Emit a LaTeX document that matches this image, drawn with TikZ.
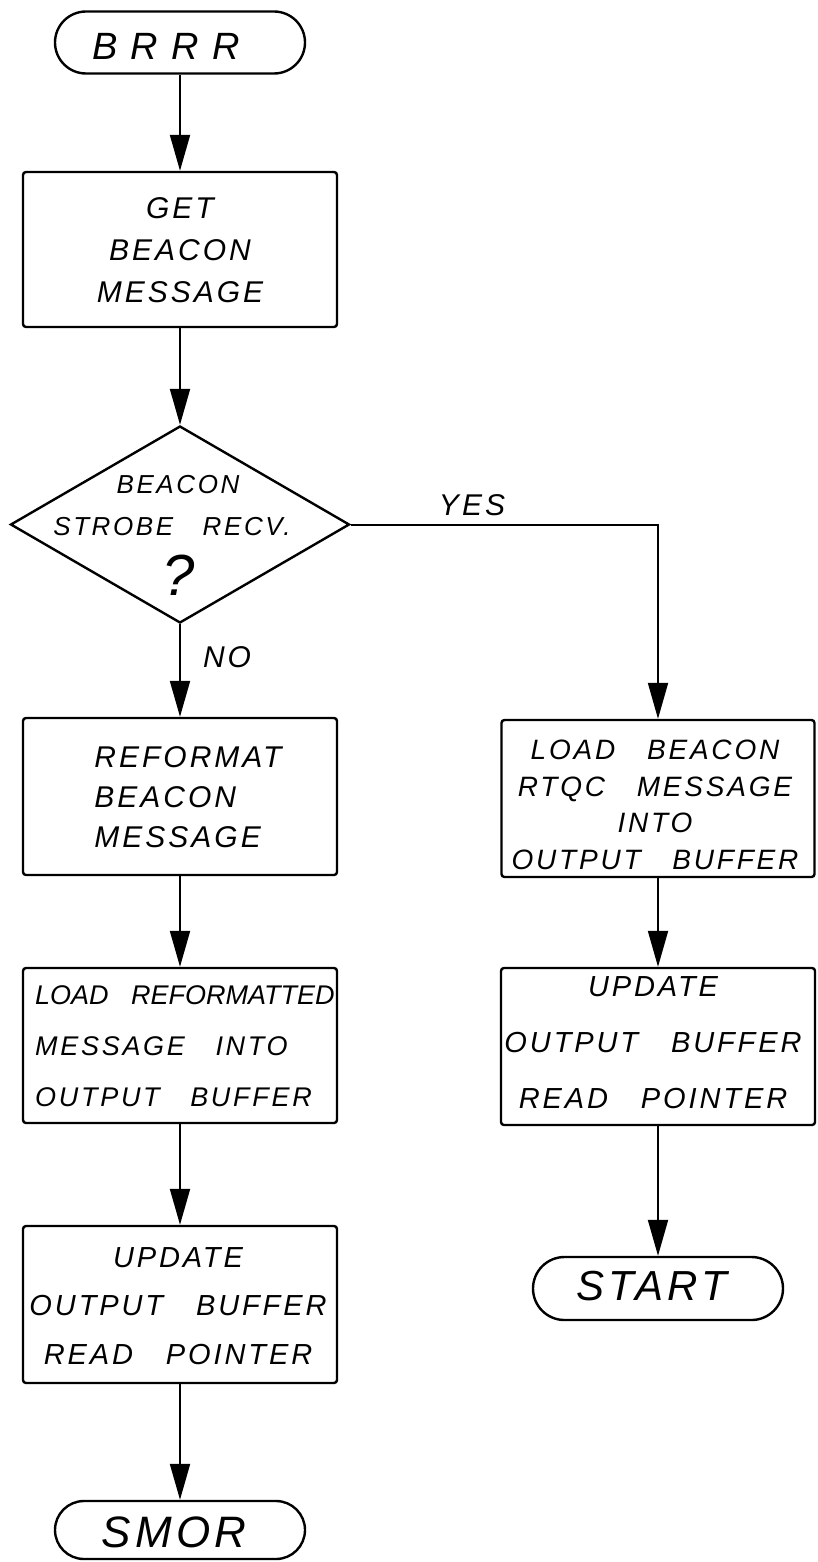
\documentclass[tikz,border=0pt]{standalone}
\usepackage{fontspec}
\usetikzlibrary{shapes.geometric,shapes.misc,arrows.meta}
\newfontfamily\hand{Liberation Sans}[LetterSpace=10,WordSpace=3]
\newcommand{\hfs}[2]{\hand\itshape\fontsize{#1}{#2}\selectfont}
\begin{document}
\begin{tikzpicture}[x=1pt,y=-1pt,
  box/.style={draw, line width=2.4pt, rounded corners=3pt, minimum width=314pt, minimum height=156pt, inner sep=0pt},
  term/.style={draw, line width=2.4pt, rounded rectangle, minimum width=250pt, minimum height=62pt, inner sep=0pt},
  decision/.style={draw, line width=2.4pt, diamond, minimum width=339pt, minimum height=197pt, inner sep=0pt},
  flow/.style={line width=2pt, -{Triangle[width=20pt,length=36pt]}},
  lbl/.style={inner sep=0pt, align=center},
]
\useasboundingbox (0,0) rectangle (817,1562);

% left column
\node[term] (brrr) at (180,42.5) {};
\node[lbl, font={\hfs{38}{44}}] (brrr-t) at (166,46) {\addfontfeature{LetterSpace=35}BRRR};

\node[box, minimum height=155pt] (get) at (180,249.5) {};
\node[lbl, font={\hfs{30}{42}}] (get-t) at (180,250) {GET\\BEACON\\MESSAGE};

\node[decision] (dia) at (180,524.5) {};
\node[lbl, font={\hfs{26}{30}}] (dia-t1) at (178,485) {BEACON};
\node[lbl, font={\hfs{26}{30}}] (dia-t2) at (172,527) {STROBE RECV.};
\node[lbl, font={\hfs{58}{60}}] (dia-q) at (179,575) {?};

\node[box, minimum height=157pt] (reform) at (180,796.5) {};
\node[lbl, align=left, font={\hfs{30}{40}}] (reform-t) at (188,797) {REFORMAT\\ BEACON\\MESSAGE};

\node[box, minimum height=155pt] (loadref) at (180,1045.5) {};
\node[lbl, align=left, anchor=west, font={\hfs{27}{51}}] (loadref-t) at (35,1046) {{\addfontfeature{LetterSpace=0}LOAD REFORMATTED}\\MESSAGE INTO\\OUTPUT BUFFER};

\node[box, minimum height=157pt] (updl) at (180,1304.5) {};
\node[lbl, font={\hfs{29}{48.5}}] (updl-t) at (178,1306) {UPDATE\\OUTPUT BUFFER\\READ POINTER};

\node[term, minimum height=58pt] (smor) at (180,1530) {};
\node[lbl, font={\hfs{44}{48}}] (smor-t) at (174,1532) {SMOR};

% right column
\node[box, minimum width=313pt, minimum height=157pt] (lbeacon) at (658,798.5) {};
\node[lbl, font={\hfs{28}{36.7}}] (lbeacon-t) at (655,805) {LOAD BEACON\\RTQC MESSAGE\\INTO\\OUTPUT BUFFER};

\node[box, minimum height=157pt] (updr) at (658,1046.5) {};
\node[lbl, font={\hfs{29}{56}}] (updr-t) at (653,1043) {UPDATE\\OUTPUT BUFFER\\READ POINTER};

\node[term, minimum height=63pt] (start) at (658,1288.5) {};
\node[lbl, font={\hfs{42}{46}}] (start-t) at (652,1286) {START};

% labels
\node[lbl, font={\hfs{30}{34}}] (yes) at (472,505) {YES};
\node[lbl, font={\hfs{30}{34}}] (no) at (227,657) {NO};

% connectors
\draw[flow] (brrr.south) -- (get.north);
\draw[flow] (get.south) -- (dia.north);
\draw[flow] (dia.south) -- (reform.north);
\draw[flow] (reform.south) -- (loadref.north);
\draw[flow] (loadref.south) -- (updl.north);
\draw[flow] (updl.south) -- (smor.north);
\draw[flow] (dia.east) -| (lbeacon.north);
\draw[flow] (lbeacon.south) -- (updr.north);
\draw[flow] (updr.south) -- (start.north);
\end{tikzpicture}
\end{document}
